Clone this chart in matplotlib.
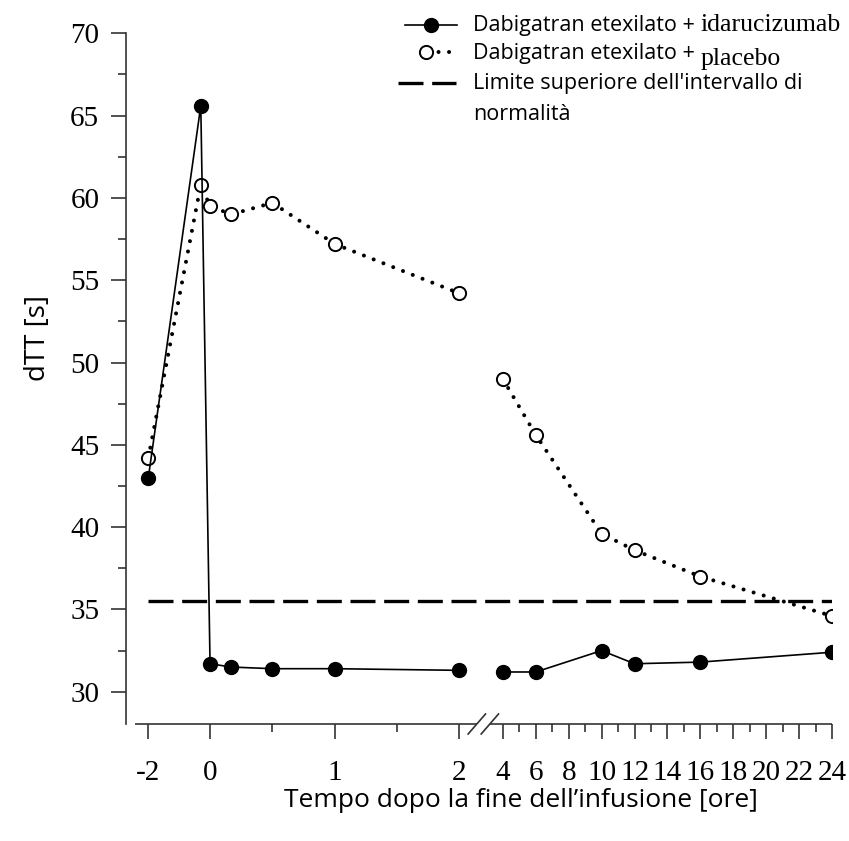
import numpy as np
import matplotlib
matplotlib.use("Agg")
import matplotlib.pyplot as plt
from matplotlib.lines import Line2D
from matplotlib.ticker import FixedLocator, FixedFormatter
from matplotlib.transforms import blended_transform_factory

# ---------------- data ----------------
hours_left = [-2, -0.3, 0, 0.17, 0.5, 1, 2]
hours_right = [4, 6, 10, 12, 16, 24]
ida_left = [43.0, 65.6, 31.7, 31.5, 31.4, 31.4, 31.3]
ida_right = [31.2, 31.2, 32.5, 31.7, 31.8, 32.4]
pla_left = [44.2, 60.8, 59.5, 59.0, 59.7, 57.2, 54.2]
pla_right = [49.0, 45.6, 39.6, 38.6, 37.0, 34.6]
upper_limit = 35.5

xtick_values = [-2, 0, 1, 2, 4, 6, 8, 10, 12, 14, 16, 18, 20, 22, 24]
xtick_labels = ["-2", "0", "1", "2", "4", "6", "8", "10", "12", "14", "16",
                "18", "20", "22", "24"]
xminor_values = [0.5, 1.5, 5, 7, 9, 11, 13, 15, 17, 19, 21, 23]
ytick_values = [30, 35, 40, 45, 50, 55, 60, 65, 70]
yminor_values = [32.5, 37.5, 42.5, 47.5, 52.5, 57.5, 62.5, 67.5]

# piecewise (broken) time axis
brk_data = np.array([-12.0, -2.0, 0.0, 2.0, 4.0, 24.0, 44.0])
brk_pos = np.array([-370.2, -61.7, 0.0, 249.3, 292.7, 621.7, 950.7])


def fwd(x):
    return np.interp(x, brk_data, brk_pos)


def inv(p):
    return np.interp(p, brk_pos, brk_data)


W, H = 849, 841
fig = plt.figure(figsize=(W / 100, H / 100), dpi=100)


def fx(px):
    return px / W


def fy(py):
    return 1 - py / H


ax = fig.add_axes([125.7 / W, 1 - 724 / H, (832 - 125.7) / W, (724 - 33.3) / H])
ax.set_xscale("function", functions=(fwd, inv))
ax.set_xlim(-2.733, 24)
ax.set_ylim(28.04, 70)

serif = "Liberation Serif"
sans = "Open Sans"

# upper limit of normal range
ax.hlines(upper_limit, hours_left[0], hours_right[-1], colors="black",
          linewidth=2.4, linestyles=(0, (7.5, 2.6)), zorder=2)

# placebo
dot_style = dict(color="black", linewidth=2.9, linestyle=(0, (0.01, 2.6)),
                 dash_capstyle="round", marker="o", markersize=9.5,
                 markerfacecolor="white", markeredgecolor="black",
                 markeredgewidth=1.4, zorder=3)
ax.plot(hours_left, pla_left, **dot_style)
ax.plot(hours_right, pla_right, **dot_style)

# idarucizumab
solid_style = dict(color="black", linewidth=1.2, linestyle="-", marker="o",
                   markersize=10, markerfacecolor="black",
                   markeredgecolor="black", zorder=4)
ax.plot(hours_left, ida_left, **solid_style)
ax.plot(hours_right, ida_right, **solid_style)

# axes styling
for s in ["top", "right", "bottom"]:
    ax.spines[s].set_visible(False)
ax.spines["left"].set_linewidth(1.2)
ax.spines["left"].set_color("#333333")

ax.xaxis.set_major_locator(FixedLocator(xtick_values))
ax.xaxis.set_major_formatter(FixedFormatter(xtick_labels))
ax.xaxis.set_minor_locator(FixedLocator(xminor_values))
ax.yaxis.set_major_locator(FixedLocator(ytick_values))
ax.yaxis.set_minor_locator(FixedLocator(yminor_values))

ax.tick_params(axis="both", which="major", direction="out", length=11,
               width=1.2, color="#333333")
ax.tick_params(axis="both", which="minor", direction="out", length=6,
               width=1.2, color="#333333")
ax.tick_params(axis="x", which="major", pad=15)
ax.tick_params(axis="y", which="major", pad=8)
for lab in ax.get_xticklabels() + ax.get_yticklabels():
    lab.set_fontfamily(serif)
    lab.set_fontsize(21)

# bottom axis line with break
bt = blended_transform_factory(ax.transData, ax.transAxes)
ax.plot([-2.43, 2.82], [0, 0], color="#333333", lw=1.2, transform=bt,
        clip_on=False, solid_capstyle="butt")
ax.plot([3.41, 24], [0, 0], color="#333333", lw=1.2, transform=bt,
        clip_on=False, solid_capstyle="butt")
for c in (2.80, 3.40):
    ax.plot([c - 0.40, c + 0.40], [-0.0145, 0.0145], color="#333333", lw=1.2,
            transform=bt, clip_on=False)

ax.set_ylabel("dTT [s]", fontfamily=sans, fontsize=20)
ax.yaxis.set_label_coords(-0.104, 0.559)
ax.set_xlabel("Tempo dopo la fine dell\u2019infusione [ore]", fontfamily=sans,
              fontsize=19)
ax.xaxis.set_label_coords(0.56, -0.093)

# ---------------- legend (manual) ----------------
fig.add_artist(Line2D([fx(405), fx(457)], [fy(25), fy(25)], color="black", lw=1.2))
fig.add_artist(Line2D([fx(431)], [fy(25)], marker="o", markersize=10,
                      markerfacecolor="black", markeredgecolor="black", lw=0))
fig.add_artist(Line2D([fx(428), fx(456)], [fy(52), fy(52)], color="black",
                      lw=2.9, linestyle=(0, (0.01, 2.6)), dash_capstyle="round"))
fig.add_artist(Line2D([fx(426)], [fy(52)], marker="o", markersize=9.5,
                      markerfacecolor="white", markeredgecolor="black",
                      markeredgewidth=1.4, lw=0))
fig.add_artist(Line2D([fx(398), fx(456)], [fy(83), fy(83)], color="black",
                      lw=2.4, linestyle=(0, (7.5, 2.6))))

lx = fx(473)
t1 = fig.text(lx, fy(25), "Dabigatran etexilato +", fontfamily=sans,
              fontsize=15.5, va="center", ha="left")
t2 = fig.text(lx, fy(53), "Dabigatran etexilato +", fontfamily=sans,
              fontsize=15.5, va="center", ha="left")
fig.text(lx, fy(84), "Limite superiore dell'intervallo di", fontfamily=sans,
         fontsize=15.5, va="center", ha="left")
fig.text(lx, fy(115), "normalit\u00e0", fontfamily=sans, fontsize=15.5,
         va="center", ha="left")
fig.add_artist(matplotlib.text.Annotation(
    "idarucizumab", xy=(1, 0.5), xycoords=t1, xytext=(4, 0),
    textcoords="offset points", fontfamily=serif, fontsize=18.5,
    va="center", ha="left"))
fig.add_artist(matplotlib.text.Annotation(
    "placebo", xy=(1, 0.5), xycoords=t2, xytext=(4, -4),
    textcoords="offset points", fontfamily=serif, fontsize=18.5,
    va="center", ha="left"))

fig.savefig("out.png", dpi=100)
